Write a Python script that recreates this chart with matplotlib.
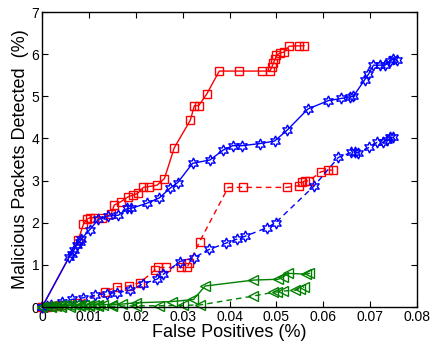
import matplotlib
matplotlib.use("Agg")
import matplotlib.pyplot as plt


# Detection curves: false positive rate (%) vs malicious packets detected (%)
red_solid_fp = [0, 0.0077, 0.0088, 0.0095, 0.0102, 0.011, 0.0128, 0.0147, 0.0154,
                0.0168, 0.0184, 0.0193, 0.0204, 0.0216, 0.0228, 0.0245, 0.0261,
                0.0282, 0.0316, 0.0325, 0.0334, 0.0351, 0.0378, 0.042, 0.0469,
                0.0486, 0.049, 0.0493, 0.0497, 0.05, 0.0508, 0.0516, 0.0527,
                0.0549, 0.0559]
red_solid_det = [0, 1.59, 1.96, 2.08, 2.12, 2.12, 2.12, 2.2, 2.42, 2.5, 2.62, 2.65,
                 2.7, 2.84, 2.86, 2.89, 3.05, 3.78, 4.43, 4.78, 4.78, 5.05, 5.6,
                 5.6, 5.6, 5.6, 5.69, 5.78, 5.88, 5.98, 6.03, 6.05, 6.19, 6.2, 6.2]

blue_solid_fp = [0, 0.0058, 0.0063, 0.0068, 0.0074, 0.008, 0.0083, 0.0102, 0.012,
                 0.0141, 0.0163, 0.0182, 0.0189, 0.0223, 0.025, 0.0273, 0.0289,
                 0.0321, 0.0358, 0.0387, 0.0407, 0.0427, 0.0465, 0.0496, 0.0523,
                 0.0567, 0.0611, 0.0638, 0.0657, 0.0664, 0.0688, 0.0696, 0.0707,
                 0.0721, 0.0732, 0.0742, 0.0749, 0.0757]
blue_solid_det = [0, 1.19, 1.26, 1.35, 1.47, 1.55, 1.61, 1.84, 2.08, 2.16, 2.18,
                  2.34, 2.34, 2.46, 2.59, 2.82, 2.95, 3.41, 3.49, 3.73, 3.83, 3.83,
                  3.88, 3.94, 4.2, 4.7, 4.9, 4.95, 4.99, 5.0, 5.39, 5.52, 5.74,
                  5.74, 5.74, 5.84, 5.88, 5.86]

red_dash_fp = [0, 0.001, 0.002, 0.003, 0.004, 0.0074, 0.0134, 0.0159, 0.0186,
               0.0209, 0.0241, 0.0248, 0.0265, 0.0297, 0.0309, 0.0314, 0.0336,
               0.0397, 0.0428, 0.0522, 0.0548, 0.0554, 0.0561, 0.057, 0.0595,
               0.0611, 0.0621]
red_dash_det = [0, 0.01, 0.02, 0.03, 0.04, 0.1, 0.36, 0.48, 0.5, 0.58, 0.88, 0.94,
                0.94, 0.94, 0.94, 1.04, 1.55, 2.84, 2.84, 2.84, 2.88, 2.97, 2.99,
                3.0, 3.21, 3.25, 3.25]

blue_dash_fp = [0, 0.001, 0.002, 0.0042, 0.0063, 0.0088, 0.0113, 0.0138, 0.0159,
                0.0188, 0.0215, 0.0245, 0.0259, 0.0294, 0.0324, 0.0357, 0.0393,
                0.0415, 0.0433, 0.0479, 0.0498, 0.058, 0.0632, 0.066, 0.0668,
                0.0673, 0.0698, 0.0715, 0.0728, 0.0735, 0.0742, 0.0748]
blue_dash_det = [0, 0.03, 0.06, 0.13, 0.18, 0.22, 0.28, 0.32, 0.34, 0.40, 0.55,
                 0.66, 0.78, 1.08, 1.17, 1.37, 1.52, 1.61, 1.68, 1.88, 2.0, 2.87,
                 3.55, 3.67, 3.67, 3.66, 3.79, 3.91, 3.91, 3.96, 4.03, 4.03]

green_solid_fp = [0, 0.001, 0.002, 0.003, 0.004, 0.005, 0.006, 0.007, 0.008,
                  0.009, 0.010, 0.011, 0.012, 0.013, 0.015, 0.017, 0.020, 0.0277,
                  0.0323, 0.0348, 0.0451, 0.0504, 0.0515, 0.0525, 0.0563, 0.057]
green_solid_det = [0, 0.02, 0.03, 0.03, 0.04, 0.04, 0.05, 0.05, 0.05, 0.05, 0.06,
                   0.06, 0.06, 0.06, 0.06, 0.07, 0.1, 0.13, 0.18, 0.5, 0.64, 0.66,
                   0.72, 0.8, 0.78, 0.8]

green_dash_fp = [0, 0.002, 0.004, 0.006, 0.008, 0.01, 0.012, 0.015, 0.02, 0.025,
                 0.03, 0.0337, 0.045, 0.0493, 0.0502, 0.0515, 0.054, 0.055, 0.0559]
green_dash_det = [0, 0.01, 0.01, 0.01, 0.02, 0.02, 0.02, 0.02, 0.03, 0.03, 0.04,
                  0.05, 0.26, 0.35, 0.36, 0.38, 0.40, 0.44, 0.48]

x_ticks = [0, 0.01, 0.02, 0.03, 0.04, 0.05, 0.06, 0.07, 0.08]
x_tick_labels = ["0", "0.01", "0.02", "0.03", "0.04", "0.05", "0.06", "0.07", "0.08"]
y_ticks = [0, 1, 2, 3, 4, 5, 6, 7]

plt.rcParams["font.family"] = ["Liberation Sans", "DejaVu Sans"]

RED = (1, 0, 0)
BLUE = (0, 0, 1)
GREEN = (0, 0.5, 0)
DASH = (0, (4, 3))
HEXAGRAM = (6, 1, 0)

fig = plt.figure(figsize=(4.34, 3.45), dpi=100)
ax = fig.add_axes([0.097, 0.110, 0.864, 0.855])

series = [
    (red_solid_fp, red_solid_det, RED, "-", "s", 6),
    (blue_solid_fp, blue_solid_det, BLUE, "-", HEXAGRAM, 8),
    (red_dash_fp, red_dash_det, RED, DASH, "s", 6),
    (blue_dash_fp, blue_dash_det, BLUE, DASH, HEXAGRAM, 8),
    (green_solid_fp, green_solid_det, GREEN, "-", "<", 7),
    (green_dash_fp, green_dash_det, GREEN, DASH, "<", 7),
]

for fp, det, color, ls, marker, ms in series:
    ax.plot(fp, det, color=color, linestyle=ls, linewidth=1.0,
            marker=marker, markersize=ms, markerfacecolor="none",
            markeredgecolor=color, markeredgewidth=1.0, clip_on=False)

ax.set_xlim(0, 0.08)
ax.set_ylim(0, 7)
ax.set_xticks(x_ticks)
ax.set_xticklabels(x_tick_labels)
ax.set_yticks(y_ticks)
ax.tick_params(direction="in", top=True, right=True, length=4, width=0.8,
               labelsize=10, pad=2)
for spine in ax.spines.values():
    spine.set_linewidth(1.0)

ax.set_xlabel("False Positives (%)", fontsize=13, labelpad=0)
ax.set_ylabel("Malicious Packets Detected  (%)", fontsize=13, labelpad=2)

fig.savefig("out.png", dpi=100)
